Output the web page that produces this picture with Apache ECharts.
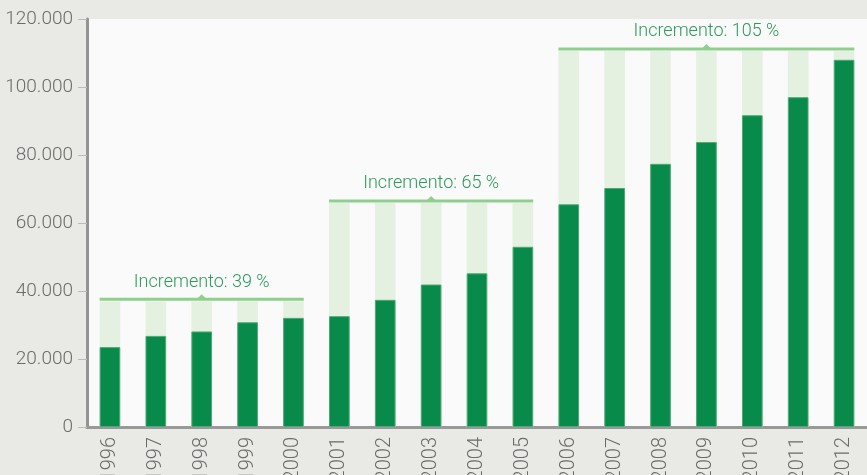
<!DOCTYPE html>
<html>
<head>
<meta charset="utf-8">
<script src="https://cdn.jsdelivr.net/npm/echarts@6/dist/echarts.min.js"></script>
<style>
  html, body { margin: 0; padding: 0; background: #e9e9e5; }
  #chart { width: 867px; height: 475px; }
</style>
</head>
<body>
<div id="chart"></div>
<script>
// years on the x axis
const years = ['1996', '1997', '1998', '1999', '2000', '2001', '2002', '2003', '2004',
  '2005', '2006', '2007', '2008', '2009', '2010', '2011', '2012']
// dark bars: yearly value
const values = [23500, 26800, 28100, 30800, 32100, 32600, 37400, 41900, 45200,
  53000, 65500, 70300, 77400, 83800, 91700, 97000, 108000]
// pale bars behind: level reached at the end of each period
const levels = [37000, 37000, 37000, 37000, 37000, 65900, 65900, 65900, 65900,
  65900, 110600, 110600, 110600, 110600, 110600, 110600, 110600]
// periods with their increment brackets
const periodStart = [0, 5, 10]
const periodEnd = [4, 9, 16]
const periodLevel = [37000, 65900, 110600]
const periodLabel = ['Incremento: 39 %', 'Incremento: 65 %', 'Incremento: 105 %']
const yTicks = [0, 20000, 40000, 60000, 80000, 100000, 120000]

const font = 'Roboto, "Noto Sans", sans-serif'

const fmt = v => v === 0 ? '0' : String(v).replace(/\B(?=(\d{3})+(?!\d))/g, '.')

const brackets = periodStart.map((s, i) => [s, periodEnd[i], periodLevel[i], i])

const chart = echarts.init(document.getElementById('chart'))
chart.setOption({
  animation: false,
  backgroundColor: '#e9e9e5',
  grid: {
    left: 87, top: 19, right: 0, bottom: 48,
    outerBoundsMode: 'none', containLabel: false,
    show: true, backgroundColor: '#fafafa', borderWidth: 0
  },
  xAxis: {
    type: 'category',
    data: years,
    axisLine: { lineStyle: { color: '#999', width: 3 } },
    axisTick: { length: 6, lineStyle: { color: '#aaa' } },
    axisLabel: {
      rotate: 90, margin: 10, color: '#6b6b6b', fontSize: 20, fontWeight: 300, fontFamily: font
    }
  },
  yAxis: {
    type: 'value',
    min: yTicks[0],
    max: yTicks[yTicks.length - 1],
    interval: 20000,
    splitLine: { show: false },
    axisLine: { show: true, lineStyle: { color: '#939393', width: 3 } },
    axisTick: { show: true, length: 9, lineStyle: { color: '#bbb' } },
    axisLabel: {
      margin: 14, color: '#6b6b6b', fontSize: 19, fontWeight: 300, fontFamily: font, formatter: fmt
    }
  },
  series: [
    {
      type: 'bar',
      data: levels,
      barWidth: '45%',
      itemStyle: { color: '#e4f1e0' },
      silent: true
    },
    {
      type: 'bar',
      data: values,
      barWidth: '45%',
      barGap: '-100%',
      itemStyle: { color: '#088a4a', borderColor: '#4ea874', borderWidth: 1 }
    },
    {
      type: 'custom',
      data: brackets,
      encode: { x: [0, 1], y: 2 },
      silent: true,
      z: 5,
      renderItem: function (params, api) {
        const p0 = api.coord([api.value(0), api.value(2)])
        const p1 = api.coord([api.value(1), api.value(2)])
        const bw = api.size([1, 0])[0] * 0.45
        const x0 = p0[0] - bw / 2
        const x1 = p1[0] + bw / 2
        const y = p0[1] - 2
        const cx = (p0[0] + p1[0]) / 2
        return {
          type: 'group',
          children: [
            {
              type: 'line',
              shape: { x1: x0, y1: y, x2: x1, y2: y },
              style: { stroke: '#8fcf8d', lineWidth: 3 }
            },
            {
              type: 'polygon',
              shape: { points: [[cx - 5, y], [cx + 5, y], [cx, y - 5]] },
              style: { fill: '#8fcf8d' }
            },
            {
              type: 'text',
              style: {
                text: periodLabel[api.value(3)],
                x: cx, y: y - 17,
                align: 'center', verticalAlign: 'middle',
                fill: '#2b9a5b', fontSize: 18, fontWeight: 300, fontFamily: font
              }
            }
          ]
        }
      }
    }
  ]
})
</script>
</body>
</html>
